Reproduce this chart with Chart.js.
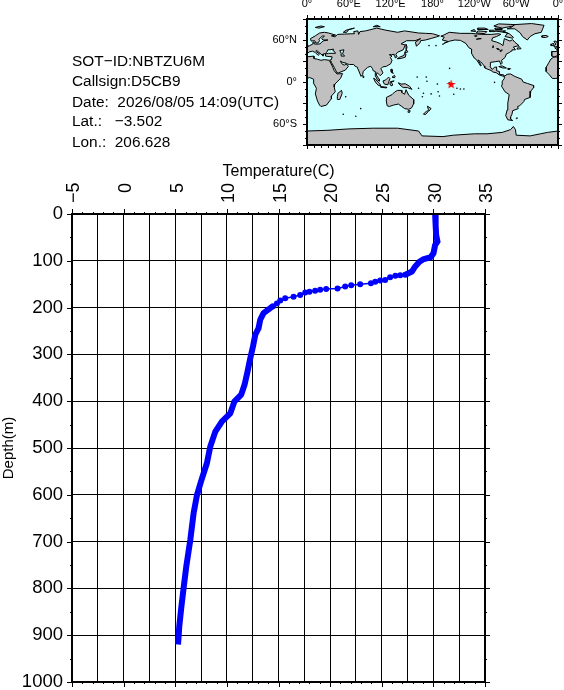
<!DOCTYPE html>
<html>
<head>
<meta charset="utf-8">
<style>
html,body{margin:0;padding:0;background:#fff;width:564px;height:690px;overflow:hidden}
canvas{position:absolute}
#main{left:0;top:0}
#map{left:260px;top:0}
.info{position:absolute;left:72px;font:15.4px "Liberation Sans",Arial,sans-serif;color:#000;white-space:pre;line-height:16px}
</style>
</head>
<body>
<canvas id="main" width="564" height="690"></canvas>
<canvas id="map" width="304" height="155"></canvas>
<div id="infoBox"></div>
<script src="https://cdn.jsdelivr.net/npm/chart.js@4"></script>
<script>
// ---------- info text ----------
const infoLines = ["SOT−ID:NBTZU6M","Callsign:D5CB9","Date:  2026/08/05 14:09(UTC)","Lat.:   −3.502","Lon.:  206.628"];
const infoTops = [53,73,94,113,134];

// ---------- profile ----------
const upperTemp  = [30.17,30.22,30.27,30.40,30.17,30.01,29.76,29.00,28.65,28.24,27.92,27.27];
const upperDepth = [0,25,45,59,66,84,92,97,102,112,123,130];
const thermoTemp  = [27.27,26.79,26.32,25.81,25.33,24.85,24.37,23.95,22.91,22.04,21.46,20.72,19.62,19.04,18.55,18.00,17.59,17.10,16.46,15.65,15.17,14.85,14.46];
const thermoDepth = [130,131,132,135,141,142,145,148,150,152,155,159,160,162,164,166,168,173,177,180,185,191,197];
const lowerTemp  = [14.46,13.55,13.23,13.07,12.75,12.53,12.27,12.00,11.71,11.39,10.72,10.33,9.53,8.88,8.39,8.07,7.49,7.11,6.78,6.46,6.07,5.81,5.56,5.39,5.27];
const lowerDepth = [197,212,226,244,258,283,308,337,365,386,401,426,443,465,497,532,572,600,639,696,753,799,846,881,920];

// ---------- axes ----------
const tempMin = -5, tempMax = 35, depthMin = 0, depthMax = 1000;
const tempGrid = 2.5, tempLabelStep = 5, tempMinorStep = 1, depthStep = 100, depthMinorStep = 50;
const mapLonTicks = [0,60,120,180,240,300,360];
const mapLonLabels = ["0°","60°E","120°E","180°","120°W","60°W","0°"];
const mapLatTicks = [-60,0,60];
const mapLatLabels = ["60°S","0°","60°N"];

// ---------- float position ----------
const floatLon = [206.628], floatLat = [-3.502];

// ---------- coast outlines: [lon, lat] (lon 0..360) ----------
const caspian = [[47,45],[53,46],[51,40],[54,37],[50,37],[49,41]];
const hudsonLakes = [[[272,48],[275,47.5],[276,46],[273,46.5]],[[277,45],[280,46],[279,44],[278,43.5]],[[266,49],[268,50],[267,52]],[[246,62],[250,62],[243,61]],[[240,66],[244,66],[241,65]]];
const eurasiaAfrica = [[0,50],[4,52],[8,54],[8.5,57],[10.5,57],[10,54.5],[14,54],[19,54.5],[21,57],[24,59],[30,60],[23,60],[21,62],[25,65.5],[22,65.8],[17,61],[18,59],[16,56],[13,55.5],[11,59],[6,58.5],[5,62],[12,66],[18,70],[25,71],[31,70],[41,67],[35,66],[40,64.5],[44,68],[54,68.5],[68,69],[67,72],[73,73],[74,68],[76,72],[84,73],[100,77],[113,74],[130,71],[140,73],[160,70],[170,69.5],[180,69],[190,66],[186,64.5],[179,62.5],[170,60],[163,59],[162,56],[157,51],[155.5,57],[163,62],[155,59],[143,59],[135,54.5],[141,53],[138,46],[130,42.5],[127.5,39.5],[129.3,36],[126.5,34.5],[126,37.5],[125,39.7],[121.5,39],[118,39],[122,37],[119.5,35],[122,31],[120,26],[114,22.5],[108.5,21.5],[106,19],[109,13],[105,9],[103,11],[100.5,13.5],[99.5,10],[103.5,4],[104,1.3],[101,3],[98.5,8],[98,15],[95,16],[94,19],[91.5,22.5],[87,21],[80.5,15],[80,11],[77.5,8],[73,19],[72.5,21],[69,22.5],[67,25],[61,25],[57,26],[56,27],[51,28],[48,30],[50,26],[51.5,25],[54,24],[56,26],[59.5,22.5],[55,17],[45,13],[43,13],[39,21],[35,28],[34.5,30],[32.5,30],[34,27],[37,21],[39,16],[43,11.5],[51,12],[48,5],[40,-3],[39,-7],[40.5,-14],[35,-20],[35,-24],[32.5,-27],[28,-33],[20,-35],[18,-33],[15,-27],[12,-17],[13.5,-9],[9,-1],[9.5,4],[4,6.3],[0,5.5],[0,36],[10,37],[10,33.5],[15,32.5],[20,31],[25,32],[32,31],[35,32],[36,36],[30,36.5],[27,37],[26.5,40],[31,41],[41,41],[39,44],[37,45],[38,47],[33,46],[30,46],[28,42],[26,40.5],[23,40],[23,37],[20,40],[14,45],[12.5,44],[18,40],[16,38],[12,42],[8,44],[3,43],[0,40]];
const iberiaFrance = [[360,50],[358,49],[355.5,48.5],[359,46],[358,43.5],[351,43.5],[351,37],[354.5,36],[358,37],[360,39]];
const westAfrica = [[360,36],[354,35.5],[350,33],[347,28],[343,21],[343,15],[347,11],[352,5],[356,5],[360,5.5]];
const northAmerica = [[192,65.5],[197,64],[194,60],[202,58],[196,55],[205,58.5],[212,60],[220,59.5],[228,55],[232,49],[236,47],[236,41],[240,34],[243,32],[249,23],[250,23.5],[245.5,31.5],[251,27],[254,23],[255,20],[265,16],[266,14.5],[272,13],[276,10],[280.5,8.5],[283,8],[282.5,10],[276.5,11],[276,15],[272,16],[272,21.5],[269,21],[265.5,18],[262.5,22],[263,28],[270,29],[276,30],[278,25],[280,27],[279,31],[284,35],[286,40],[290,42],[293,44],[294,46],[299,46],[296,50],[304,52],[298,57],[295,60.5],[291,58.5],[283,62],[282,57],[281,52],[277,55],[272,57],[265,59],[266,63],[272,65],[278,68],[275,69],[265,68],[250,68],[235,69.5],[220,69.5],[204,71],[195,66.5]];
const southAmerica = [[283,8],[287,11],[292,11.5],[298,8],[308,4],[310,0],[316,-2],[325,-5],[325,-8],[321,-13],[320,-22],[312,-25],[311,-28],[305,-34],[302,-35],[303,-38],[295,-41],[294,-46],[292,-50],[292,-53],[295,-55],[288,-54],[285,-48],[287,-40],[288,-30],[290,-18],[284,-14],[279,-6],[280,-3],[280,1],[283,5]];
const greenland = [[316,60],[309,65],[306,70],[298,76],[287,76],[293,78],[298,82],[322,83.5],[340,81],[338,76],[336,71],[327,69],[320,65]];
const antarctica = [[0,-70],[30,-69],[60,-67],[95,-66],[130,-66],[160,-70],[165,-77],[195,-78],[210,-76],[240,-74],[258,-74],[280,-72],[292,-68],[296,-63.5],[299,-68],[300,-76],[320,-77],[335,-74],[345,-72],[360,-70],[360,-90],[0,-90]];
const australia = [[114,-22],[122,-18],[126,-14],[130,-12],[136,-12],[136,-15],[140,-17.5],[142,-11],[146,-19],[153,-25],[153,-31],[150,-37],[146,-39],[140,-38],[136,-35],[131,-31.5],[124,-33],[118,-35],[115,-34],[113.5,-26]];
const islands = [
 [[49.5,-12],[50.5,-16],[47,-25],[44,-25],[43.5,-21],[44.5,-16]],
 [[130,33],[136,34],[141,35.5],[142,40],[140,41],[139,38],[133,35.5],[130.5,34]],
 [[140,42],[142,45.5],[145,43.5],[142,42]],
 [[142,54],[143.5,50],[142.5,46],[142,50]],
 [[120.5,18.5],[122,18],[122,14],[124,12.5],[121,13.5],[120,16]],
 [[122,7],[125.5,9.5],[126.5,7],[125,6]],
 [[109,1.5],[113,3],[117,7],[119,5],[117.5,1],[116,-4],[111,-3],[109.5,0]],
 [[95.5,5.5],[98,4],[104,-2],[106,-6],[102,-4.5],[98,0]],
 [[105.5,-6.5],[114.5,-7.5],[114,-8.5],[106,-7.5]],
 [[119.5,0.5],[125,1.5],[121,0],[123,-4.5],[120.5,-5.5],[119,-3]],
 [[131,-1],[135,-3],[141,-2.5],[147,-6],[150.5,-10.5],[144,-8],[138,-8],[133,-4]],
 [[145,-41],[148,-41],[147,-43.5],[146,-43.5]],
 [[172.7,-34.5],[178,-38],[175,-41.5],[174,-39]],
 [[172,-41],[174,-42],[170,-46.5],[167,-46]],
 [[80,9.5],[82,7],[80.5,6]],
 [[0,53],[1.7,52.7],[1,51],[0,50.8]],
 [[360,50.8],[355,50],[354.5,52],[357,54],[354,58],[357,58.5],[360,54]],
 [[350,52],[354,52],[354,55],[351,54.5]],
 [[337,64],[342,63.5],[346,65],[343,66.5],[337,66]],
 [[12,78],[20,80],[25,79],[17,77]],
 [[52,71],[56,74],[68,77],[60,75],[57,71]],
 [[95,79],[105,79],[100,81]],
 [[301,47],[307,47.5],[304,51]],
 [[295,62.5],[284,65],[288,70],[270,73],[285,73],[281,72],[290,69],[296,64]],
 [[243,70],[255,69],[258,72],[245,73]],
 [[235,73],[242,72],[240,75]],
 [[280,77],[295,80],[298,82],[275,83],[268,80]],
 [[270,75],[280,75],[280,76.5],[270,77]],
 [[245,75],[260,75],[255,77],[245,77]],
 [[262,72],[270,72],[268,74],[262,74]],
 [[275,22],[280,23],[286,20],[281,20]],
 [[288,19.5],[292,19],[291,18],[288,18]],
 [[300,-51.5],[302,-51.5],[301,-52.3]]
];
const islets = [[178,-17],[188,-14],[210.5,-17.5],[160,-9],[167,-16],[165.5,-21],[204.5,19.5],[269,-0.5],[70,-49],[55.5,-21],[172,1],[171,7],[158,7],[190,-20],[215,-9],[220,-10],[204,-1],[225,-10],[187,-3],[175,52],[185,52],[195,54],[77,-38],[52,-46]];

// ---------- shared ----------
const toXY = (xs, ys) => xs.map((x,i) => ({x, y:ys[i]}));
const noMargins = s => { s.paddingLeft = s.paddingRight = s.paddingTop = s.paddingBottom = 0; };

// ---------- main chart ----------
const profileStyle = {showLine:true, borderColor:'#0000ff', borderCapStyle:'butt', borderJoinStyle:'round', tension:0, pointRadius:0};

const mainFrame = {
  id:'mainFrame',
  afterDraw(chart){
    const {ctx, chartArea:a, scales:{x,y}} = chart;
    ctx.save();
    ctx.fillStyle = '#000';
    for (let t = tempMin; t <= tempMax; t += tempMinorStep) {
      const px = Math.round(x.getPixelForValue(t));
      const major = (t % tempLabelStep) === 0;
      const len = major ? 5 : 2;
      ctx.fillRect(px, a.top - len, 1, len);
      ctx.fillRect(px, a.bottom, 1, len);
    }
    for (let d = depthMin; d <= depthMax; d += depthMinorStep) {
      const py = Math.round(y.getPixelForValue(d));
      const major = (d % depthStep) === 0;
      const len = major ? 5 : 2;
      ctx.fillRect(a.left - len, py, len, 1);
      ctx.fillRect(a.right, py, len, 1);
    }
    ctx.fillRect(a.left - 1, a.top - 1, 2, a.bottom - a.top + 2);
    ctx.fillRect(a.right - 1, a.top - 1, 2, a.bottom - a.top + 2);
    ctx.fillRect(a.left - 1, a.top - 1, a.right - a.left + 2, 2);
    ctx.fillRect(a.left - 1, a.bottom - 1, a.right - a.left + 2, 2);
    ctx.restore();
  }
};

new Chart(document.getElementById('main'), {
  type:'scatter',
  data:{datasets:[
    {...profileStyle, label:'upper', data:toXY(upperTemp, upperDepth), borderWidth:6},
    {...profileStyle, label:'thermocline', data:toXY(thermoTemp, thermoDepth), borderWidth:1.5, pointRadius:3, pointBackgroundColor:'#0000ff', pointBorderWidth:0},
    {...profileStyle, label:'lower', data:toXY(lowerTemp, lowerDepth), borderWidth:6}
  ]},
  options:{
    responsive:false, animation:false, devicePixelRatio:1,
    layout:{padding:{top:160,left:0,right:79,bottom:8}},
    plugins:{legend:{display:false},tooltip:{enabled:false}},
    scales:{
      x:{
        type:'linear', position:'top', min:tempMin, max:tempMax,
        afterFit(s){ s.height = 54; noMargins(s); },
        title:{display:true, text:'Temperature(C)', color:'#000', padding:{top:2,bottom:0}, font:{family:'"Liberation Sans"', size:16}},
        grid:{color:'#000', lineWidth:1, drawTicks:false},
        border:{display:false},
        ticks:{
          stepSize:tempGrid, autoSkip:false, minRotation:90, maxRotation:90, padding:11, labelOffset:24, color:'#000',
          font:{family:'"Liberation Sans"', size:18},
          callback(v){
            if (v % tempLabelStep !== 0) return '';
            const s = String(Math.abs(v));
            return v < 0 ? '−' + s : (s.length < 2 ? '\u2007' + s : s);
          }
        }
      },
      y:{
        type:'linear', position:'left', reverse:true, min:depthMin, max:depthMax,
        afterFit(s){ s.width = 72; noMargins(s); },
        title:{display:true, text:'Depth(m)', color:'#000', padding:0, font:{family:'"Liberation Sans"', size:15}},
        grid:{color:'#000', lineWidth:1, drawTicks:false},
        border:{display:false},
        ticks:{stepSize:depthStep, padding:9, color:'#000', font:{family:'"Liberation Sans"', size:18.5}, callback(v){ return String(v); }}
      }
    }
  },
  plugins:[mainFrame]
});

// ---------- map ----------
const OCEAN = '#ccffff', LAND = '#c0c0c0';
const shape = (pts, fill) => ({
  showLine:true, tension:0, pointRadius:0, borderWidth:1, borderColor:'#000', fillColour:fill,
  data:[...pts, pts[0]].map(p => ({x:p[0], y:p[1]}))
});
const starCanvas = (() => {
  const c = document.createElement('canvas'); c.width = c.height = 11;
  const g = c.getContext('2d'); g.fillStyle = '#ff0000'; g.beginPath();
  for (let i = 0; i < 10; i++) {
    const r = i % 2 ? 2 : 5, t = -Math.PI/2 + i*Math.PI/5;
    g[i ? 'lineTo' : 'moveTo'](5.5 + r*Math.cos(t), 5.5 + r*Math.sin(t));
  }
  g.closePath(); g.fill();
  return c;
})();

const mapPaint = {
  id:'mapPaint',
  beforeDatasetsDraw(chart){
    const {ctx, chartArea:a} = chart;
    ctx.save(); ctx.fillStyle = OCEAN;
    ctx.fillRect(a.left, a.top, a.right - a.left, a.bottom - a.top);
    ctx.restore();
  },
  beforeDatasetDraw(chart, args){
    const ds = chart.data.datasets[args.index];
    if (!ds.fillColour) return;
    const {ctx, chartArea:a} = chart;
    ctx.save();
    ctx.beginPath(); ctx.rect(a.left, a.top, a.right - a.left, a.bottom - a.top); ctx.clip();
    ctx.beginPath();
    args.meta.data.forEach((p,i) => i ? ctx.lineTo(p.x, p.y) : ctx.moveTo(p.x, p.y));
    ctx.closePath();
    ctx.fillStyle = ds.fillColour; ctx.fill();
    ctx.restore();
  },
  afterDatasetsDraw(chart){
    const {ctx, chartArea:a, scales:{x,y}} = chart;
    ctx.save(); ctx.fillStyle = '#000';
    for (let lon = 0; lon <= 360; lon += 10) {
      const px = Math.round(x.getPixelForValue(lon));
      const len = lon % 60 === 0 ? 4 : 3;
      ctx.fillRect(px, a.top - len, 1, len);
      ctx.fillRect(px, a.bottom, 1, len);
    }
    for (let lat = -90; lat <= 90; lat += 10) {
      const py = Math.round(y.getPixelForValue(lat));
      const len = lat % 30 === 0 ? 4 : 2;
      ctx.fillRect(a.left - len, py, len, 1);
      ctx.fillRect(a.right, py, len, 1);
    }
    ctx.fillRect(a.left - 1, a.top - 1, 2, a.bottom - a.top + 2);
    ctx.fillRect(a.right - 1, a.top - 1, 2, a.bottom - a.top + 2);
    ctx.fillRect(a.left - 1, a.top - 1, a.right - a.left + 2, 2);
    ctx.fillRect(a.left - 1, a.bottom - 1, a.right - a.left + 2, 2);
    ctx.restore();
  }
};

new Chart(document.getElementById('map'), {
  type:'scatter',
  data:{datasets:[
    {label:'float', data:toXY(floatLon, floatLat), pointStyle:starCanvas, pointRadius:5},
    {label:'islets', data:islets.map(p => ({x:p[0], y:p[1]})), pointRadius:0.8, pointBackgroundColor:'#000', pointBorderWidth:0},
    shape(caspian, OCEAN),
    ...hudsonLakes.map(l => shape(l, OCEAN)),
    ...islands.map(s => shape(s, LAND)),
    shape(eurasiaAfrica, LAND), shape(iberiaFrance, LAND), shape(westAfrica, LAND),
    shape(northAmerica, LAND), shape(southAmerica, LAND), shape(greenland, LAND),
    shape(australia, LAND), shape(antarctica, LAND)
  ]},
  options:{
    responsive:false, animation:false, devicePixelRatio:1,
    layout:{padding:{top:0,left:0,right:6,bottom:10}},
    plugins:{legend:{display:false},tooltip:{enabled:false}},
    scales:{
      x:{
        type:'linear', position:'top', min:0, max:360,
        afterFit(s){ s.height = 19; noMargins(s); },
        afterBuildTicks(s){ s.ticks = mapLonTicks.map(value => ({value})); },
        grid:{display:false, drawTicks:false}, border:{display:false},
        ticks:{
          autoSkip:false, maxRotation:0, minRotation:0, padding:8, color:'#000',
          font:{family:'"Liberation Sans"', size:11},
          callback(v){ return mapLonLabels[mapLonTicks.indexOf(v)]; }
        }
      },
      y:{
        type:'linear', position:'left', min:-90, max:90,
        afterFit(s){ s.width = 47; noMargins(s); },
        afterBuildTicks(s){ s.ticks = mapLatTicks.map(value => ({value})); },
        grid:{display:false, drawTicks:false}, border:{display:false},
        ticks:{
          autoSkip:false, padding:10, color:'#000',
          font:{family:'"Liberation Sans"', size:11},
          callback(v){ return mapLatLabels[mapLatTicks.indexOf(v)]; }
        }
      }
    }
  },
  plugins:[mapPaint]
});

// ---------- info block ----------
const box = document.getElementById('infoBox');
infoLines.forEach((t,i) => {
  const d = document.createElement('div');
  d.className = 'info'; d.style.top = infoTops[i] + 'px'; d.textContent = t;
  box.appendChild(d);
});
</script>
</body>
</html>
